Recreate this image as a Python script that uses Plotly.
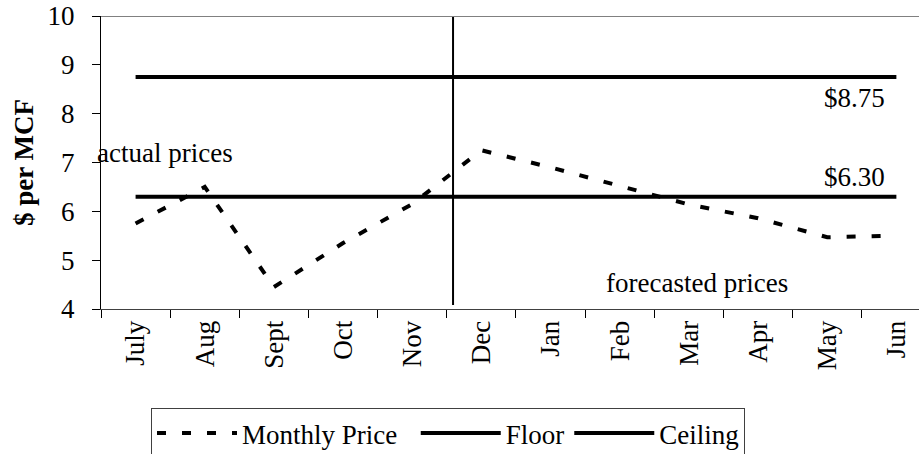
import plotly.graph_objects as go

months = ["July", "Aug", "Sept", "Oct", "Nov", "Dec", "Jan", "Feb", "Mar", "Apr", "May", "Jun"]
monthly_price = [5.75, 6.5, 4.45, 5.35, 6.15, 7.25, 6.9, 6.52, 6.14, 5.86, 5.47, 5.5]
floor_value = 6.30
ceiling_value = 8.75
floor = [floor_value] * len(months)
ceiling = [ceiling_value] * len(months)
y_ticks = [4, 5, 6, 7, 8, 9, 10]
divider_pos = 4.59  # between Nov and Dec

FONT = "Liberation Serif, Times New Roman, serif"
FS = 27

W, H = 919, 454
L, T, B = 101, 16, 145
PW = W - L
PH = H - T - B

fig = go.Figure()
fig.add_trace(go.Scatter(x=months, y=monthly_price, mode="lines", name="Monthly Price\u2002",
                         line=dict(color="black", width=4, dash="9px,16px")))
fig.add_trace(go.Scatter(x=months, y=floor, mode="lines", name="Floor",
                         line=dict(color="black", width=4)))
fig.add_trace(go.Scatter(x=months, y=ceiling, mode="lines", name="Ceiling",
                         line=dict(color="black", width=4)))

# divider between actual and forecasted
fig.add_shape(type="line", xref="x", yref="y", x0=divider_pos, x1=divider_pos, y0=4.08, y1=10,
              line=dict(color="black", width=2))
# top border of plot area
fig.add_shape(type="line", xref="paper", yref="y", x0=0, x1=1, y0=10, y1=10,
              line=dict(color="#808080", width=2))

fig.add_annotation(text="actual prices", xref="paper", yref="y", x=-6 / PW, y=7.2,
                   xanchor="left", yanchor="middle", showarrow=False,
                   font=dict(family=FONT, size=FS, color="black"))
fig.add_annotation(text="$%.2f" % ceiling_value, xref="paper", yref="y", x=786 / PW, y=8.32,
                   xanchor="right", yanchor="middle", showarrow=False,
                   font=dict(family=FONT, size=FS, color="black"))
fig.add_annotation(text="$%.2f" % floor_value, xref="paper", yref="y", x=786 / PW, y=6.70,
                   xanchor="right", yanchor="middle", showarrow=False,
                   font=dict(family=FONT, size=FS, color="black"))
fig.add_annotation(text="forecasted prices", xref="paper", yref="y", x=596 / PW, y=4.53,
                   xanchor="center", yanchor="middle", showarrow=False,
                   font=dict(family=FONT, size=FS, color="black"))

fig.update_layout(
    width=W, height=H,
    margin=dict(l=L, r=0, t=T, b=B, autoexpand=False),
    paper_bgcolor="white", plot_bgcolor="white",
    font=dict(family=FONT, size=FS, color="black"),
    showlegend=True,
    legend=dict(orientation="h", x=50 / PW, y=-99 / PH,
                xanchor="left", yanchor="top",
                bordercolor="#404040", borderwidth=1, bgcolor="white",
                font=dict(family=FONT, size=FS, color="black"),
                itemwidth=80, tracegroupgap=0),
    xaxis=dict(type="category", categoryorder="array", categoryarray=months,
               range=[-0.5, 11.327], showline=True, linecolor="#404040", linewidth=1,
               ticks="outside", ticklen=8, tickcolor="black", tickson="boundaries",
               showgrid=False, zeroline=False, tickangle=-90, automargin=False,
               ticklabeloverflow="allow",
               tickfont=dict(family=FONT, size=FS, color="black")),
    yaxis=dict(range=[4, 10], tickvals=y_ticks, showline=True, linecolor="black", linewidth=1,
               ticks="outside", ticklen=8, tickcolor="black", showgrid=False, zeroline=False,
               ticklabelstandoff=12, automargin=False, ticklabeloverflow="allow",
               tickfont=dict(family=FONT, size=FS, color="black"),
               title=dict(text="<b>$ per MCF</b>", standoff=6,
                          font=dict(family=FONT, size=FS, color="black"))),
)

fig.write_html("out.html", config={"displayModeBar": False},
               post_script="document.body.style.margin='0';document.body.style.overflow='hidden';")
